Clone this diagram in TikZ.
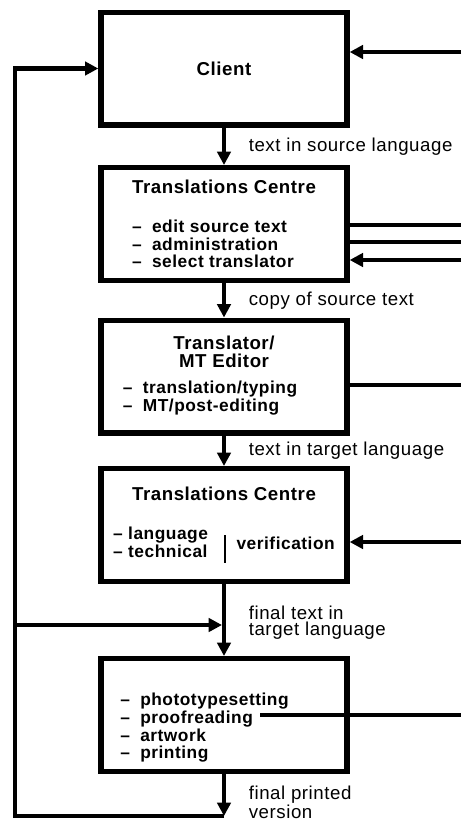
\documentclass[tikz,border=0pt]{standalone}
\usepackage{fontspec}
\setmainfont{Liberation Sans}[LetterSpace=3]
\usetikzlibrary{arrows.meta}
\newcommand\boxtitle{\fontsize{14}{13.2}\selectfont}
\newcommand\dashitem[1]{\makebox[15pt][l]{–}#1}

\begin{document}
\begin{tikzpicture}[x=0.75pt,y=-0.75pt,>={Triangle[length=10pt,width=10pt]},
  boxtext/.style={font=\fontsize{13}{13.2}\selectfont\bfseries},
  box/.style={boxtext,draw,line width=4pt,minimum width=184.5pt,minimum height=84.5pt},
  conn/.style={line width=3.2pt},
  side/.style={line width=2.5pt},
  lbl/.style={anchor=west,xshift=17pt,inner sep=0pt,align=left,font=\fontsize{14}{12.6}\selectfont}]
\useasboundingbox (0,0) rectangle (461,821);
\node [box] (client) at (224,68.5) {\boxtitle Client};
\node [box,align=left] (intake) at (224,224) {{\boxtitle Translations Centre}\\[16pt]\dashitem{edit source text}\\\dashitem{administration}\\\dashitem{select translator}};
\node [box,align=center] (editor) at (224,376.5) {{\boxtitle Translator/}\\{\boxtitle MT Editor}\\[7pt]\begin{tabular}[t]{@{}l@{\hspace{21pt}}}\dashitem{translation/typing}\\\dashitem{MT/post-editing}\end{tabular}};
\node [box,align=center] (check) at (224,525) {{\boxtitle Translations Centre}\\[19pt]\begin{tabular}[t]{@{}l@{\hspace{12pt}\vrule width 1.5pt height 11pt depth 10pt\hspace{8pt}}l@{}}\begin{tabular}{@{}l@{}}– language\\– technical\end{tabular} & verification\end{tabular}};
\node [box] (print) at (224,715) {};
\node [boxtext,anchor=north west,align=left,inner sep=0pt] (tasks) at (120,693) {\dashitem{phototypesetting}\\\dashitem{proofreading}\\\dashitem{artwork}\\\dashitem{printing}};
\draw [conn,->] (client) -- (intake) node [lbl,midway] (srclbl) {text in source language};
\draw [conn,->] (intake) -- (editor) node [lbl,midway] (copylbl) {copy of source text};
\draw [conn,->] (editor) -- (check) node [lbl,midway] (tgtlbl) {text in target language};
\draw [conn,->] (check) -- (print) node [lbl,midway,yshift=-2pt] (finallbl) {final text in\\target language};
\coordinate (bot) at (224,816);
\draw [conn,->] (print) -- (bot) node [lbl,pos=0.68] (outlbl) {final printed\\version};
\coordinate (loopbot) at (15,816);
\draw [conn,->] (bot) -- (loopbot) |- (client.west);
\coordinate (loopmid) at (15,625);
\draw [conn,->,shorten >=1.5pt] (loopmid) -- (loopmid -| print.north);
\coordinate (fromclient) at (461,52);
\draw [side,->] (fromclient) -- (fromclient -| client.east);
\coordinate (outa) at (461,225);
\coordinate (outb) at (461,242);
\coordinate (inc) at (461,260);
\draw [side] (outa -| intake.east) -- (outa);
\draw [side] (outb -| intake.east) -- (outb);
\draw [side,->] (inc) -- (inc -| intake.east);
\coordinate (outd) at (461,385);
\draw [side] (outd -| editor.east) -- (outd);
\coordinate (ine) at (461,542);
\draw [side,->] (ine) -- (ine -| check.east);
\coordinate (proofend) at (260,715);
\coordinate (outf) at (461,715);
\draw [side] (proofend) -- (outf);
\end{tikzpicture}
\end{document}
